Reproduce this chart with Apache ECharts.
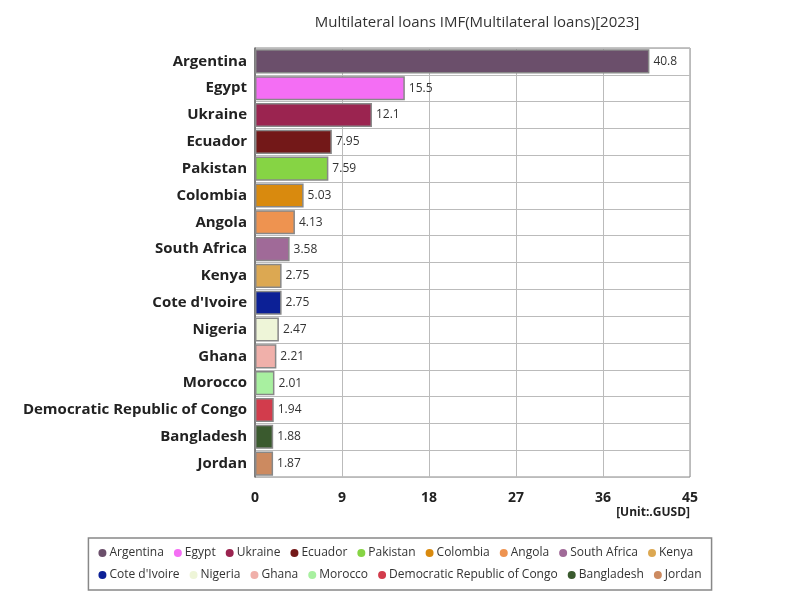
<!DOCTYPE html>
<html><head><meta charset="utf-8">
<script src="https://cdn.jsdelivr.net/npm/echarts@6/dist/echarts.min.js"></script>
<style>html,body{margin:0;padding:0;background:#fff}#c{width:800px;height:600px}</style>
</head><body><div id="c"></div>
<script>
const categories = ["Argentina","Egypt","Ukraine","Ecuador","Pakistan","Colombia","Angola","South Africa","Kenya","Cote d'Ivoire","Nigeria","Ghana","Morocco","Democratic Republic of Congo","Bangladesh","Jordan"];
const values = [40.8,15.5,12.1,7.95,7.59,5.03,4.13,3.58,2.75,2.75,2.47,2.21,2.01,1.94,1.88,1.87];
const colors = ["#6b4f6b","#f46ef4","#9b2450","#731818","#86d444","#d98a0e","#ee9350","#a06a98","#dca852","#0c2096","#eef5d8","#f0b0aa","#a8f0a0","#d23c4c","#3a5a2e","#cc8a60"];
const xTicks = [0,9,18,27,36,45];
const unitText = '[Unit:.GUSD]';

const FONT = 'Open Sans, sans-serif';
const series = categories.map((name, i) => ({
  name: name,
  type: 'bar',
  stack: 'all',
  barCategoryGap: '10%',
  data: categories.map((c, j) => j === i ? values[i] : null),
  itemStyle: { color: colors[i], borderColor: '#888', borderWidth: 1.5 },
  label: { show: true, position: 'right', distance: 4, color: '#333', fontSize: 12, fontFamily: FONT,
    formatter: p => p.value == null ? '' : String(p.value) }
}));

const chart = echarts.init(document.getElementById('c'));
chart.setOption({
  animation: false,
  title: { text: 'Multilateral loans IMF(Multilateral loans)[2023]', left: 472, textAlign: 'center', top: 10,
    textStyle: { fontSize: 15, fontWeight: 'normal', color: '#333', fontFamily: FONT } },
  grid: { left: 255, right: 110, top: 48, bottom: 123, show: true, borderColor: '#888', borderWidth: 1 },
  legend: {
    bottom: 10, left: 'center', width: 620,
    icon: 'circle', itemWidth: 8, itemHeight: 8, itemGap: 10,
    itemStyle: { borderWidth: 0 },
    borderColor: '#888', borderWidth: 1.5, padding: [9, 10, 9, 10],
    textStyle: { fontSize: 12, color: '#333', fontFamily: FONT, padding: [0, 0, 0, -2] },
    data: categories
  },
  xAxis: {
    type: 'value', min: xTicks[0], max: xTicks[xTicks.length - 1], interval: xTicks[1] - xTicks[0],
    axisLine: { show: false }, axisTick: { show: false },
    axisLabel: { fontSize: 14, fontWeight: 'bold', color: '#222', margin: 14, fontFamily: FONT },
    splitLine: { show: true, lineStyle: { color: '#bbb', width: 1 } }
  },
  yAxis: {
    type: 'category', data: categories, inverse: true,
    axisLine: { show: true, lineStyle: { color: '#666', width: 1.5 } }, axisTick: { show: false },
    axisLabel: { fontSize: 15, fontWeight: 'bold', color: '#222', margin: 8, fontFamily: FONT },
    splitLine: { show: true, lineStyle: { color: '#bbb', width: 1 } }
  },
  graphic: [{ type: 'text', right: 110, top: 507,
    style: { text: unitText, font: 'bold 12px ' + FONT, fill: '#222' } }],
  series: series
});
</script></body></html>
